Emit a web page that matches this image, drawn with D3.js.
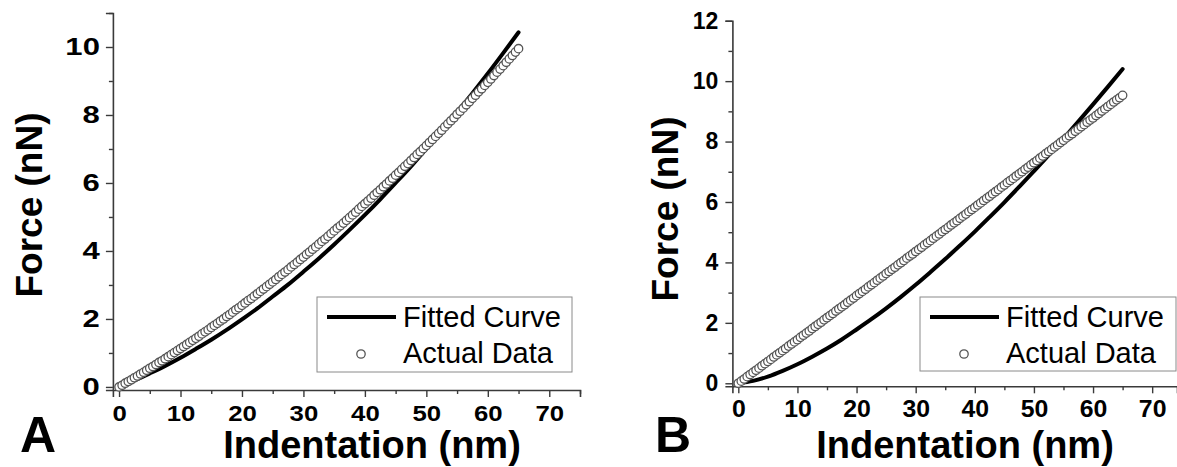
<!DOCTYPE html>
<html>
<head>
<meta charset="utf-8">
<script src="https://cdn.jsdelivr.net/npm/d3@7"></script>
<style>
  html, body { margin: 0; padding: 0; background: #fff; }
  svg { display: block; }
  text { font-family: "Liberation Sans", Arial, sans-serif; }
</style>
</head>
<body>
<svg id="fig" width="1177" height="467"></svg>
<script>
// Measured indentation grid for the AFM force curves (nm)
const sampleStep = 0.5;

// Panel A: measured force (nN) at each 0.5 nm of indentation, 0–65 nm
const forceA = [
  0,0.05,0.11,0.16,0.21,0.27,0.32,0.38,0.43,0.49,
  0.55,0.60,0.66,0.72,0.77,0.83,0.89,0.95,1.01,1.07,
  1.13,1.19,1.25,1.31,1.37,1.43,1.49,1.56,1.62,1.68,
  1.75,1.81,1.87,1.94,2.00,2.07,2.13,2.20,2.27,2.33,
  2.40,2.47,2.54,2.60,2.67,2.74,2.81,2.88,2.95,3.02,
  3.09,3.16,3.24,3.31,3.38,3.45,3.53,3.60,3.67,3.75,
  3.82,3.90,3.97,4.05,4.12,4.20,4.28,4.35,4.43,4.51,
  4.59,4.67,4.74,4.82,4.90,4.98,5.06,5.14,5.23,5.31,
  5.39,5.47,5.55,5.64,5.72,5.80,5.89,5.97,6.06,6.14,
  6.23,6.31,6.40,6.49,6.57,6.66,6.75,6.84,6.92,7.01,
  7.10,7.19,7.28,7.37,7.46,7.55,7.65,7.74,7.83,7.92,
  8.02,8.11,8.20,8.30,8.39,8.49,8.58,8.68,8.77,8.87,
  8.96,9.06,9.16,9.26,9.35,9.45,9.55,9.65,9.75,9.85,
  9.95
];

// Panel B: measured force (nN) at each 0.5 nm of indentation, 0–65 nm
const forceB = [
  0,0.07,0.14,0.22,0.29,0.36,0.43,0.50,0.58,0.65,
  0.72,0.79,0.87,0.94,1.01,1.08,1.15,1.23,1.30,1.37,
  1.44,1.52,1.59,1.66,1.73,1.81,1.88,1.95,2.02,2.10,
  2.17,2.24,2.31,2.39,2.46,2.53,2.60,2.68,2.75,2.82,
  2.90,2.97,3.04,3.11,3.19,3.26,3.33,3.41,3.48,3.55,
  3.63,3.70,3.77,3.84,3.92,3.99,4.06,4.14,4.21,4.28,
  4.36,4.43,4.50,4.58,4.65,4.72,4.80,4.87,4.94,5.02,
  5.09,5.16,5.24,5.31,5.38,5.46,5.53,5.60,5.68,5.75,
  5.82,5.90,5.97,6.05,6.12,6.19,6.27,6.34,6.41,6.49,
  6.56,6.64,6.71,6.78,6.86,6.93,7.00,7.08,7.15,7.23,
  7.30,7.37,7.45,7.52,7.60,7.67,7.74,7.82,7.89,7.97,
  8.04,8.12,8.19,8.26,8.34,8.41,8.49,8.56,8.64,8.71,
  8.78,8.86,8.93,9.01,9.08,9.16,9.23,9.31,9.38,9.45,
  9.53
];

// Fitted curves, sampled every 2.5 nm
const fitIndent = [0,2.5,5,7.5,10,12.5,15,17.5,20,22.5,25,27.5,30,32.5,35,37.5,40,42.5,45,47.5,50,52.5,55,57.5,60,62.5,65];
const fitA = [0,0.19,0.40,0.62,0.86,1.12,1.39,1.68,1.99,2.31,2.66,3.01,3.39,3.78,4.19,4.62,5.06,5.52,6.00,6.49,7.01,7.53,8.08,8.64,9.22,9.82,10.43];
const fitB = [0,0.08,0.22,0.41,0.63,0.88,1.15,1.45,1.78,2.12,2.48,2.86,3.26,3.68,4.11,4.56,5.02,5.50,5.99,6.50,7.02,7.55,8.10,8.66,9.23,9.81,10.40];

// Axis ticks
const xTicks = [0,10,20,30,40,50,60,70];
const yTicksA = [0,2,4,6,8,10];
const yTicksB = [0,2,4,6,8,10,12];
const legendLabels = ["Fitted Curve", "Actual Data"];
const panelLetters = ["A", "B"];

const svg = d3.select("#fig");
const axisColor = "#3a3a3a";
const markerStroke = "#555";

function styleTickText(sel, stretch) {
  sel.attr("fill", "#000")
    .style("font-family", "'Liberation Sans', Arial, sans-serif")
    .style("font-weight", "bold")
    .style("font-size", "23px");
}

function drawPanel(cfg) {
  const g = svg.append("g");
  const x = d3.scaleLinear().domain(cfg.xDomain).range(cfg.xRange);
  const y = d3.scaleLinear().domain(cfg.yDomain).range(cfg.yRange);

  const points = cfg.force.map((f, i) => ({ x: i * sampleStep, y: f }));
  const fit = fitIndent.map((d, i) => ({ x: d, y: cfg.fit[i] }));

  const xMinor = d3.range(5, cfg.xDomain[1] + 0.01, 10);
  const yMinor = d3.range(1, cfg.yDomain[1] + 0.01, 2);

  // x axis: major ticks with labels, minor ticks in between
  const xAxis = g.append("g").attr("transform", `translate(0,${cfg.yRange[0]})`)
    .call(d3.axisBottom(x).tickValues(xTicks).tickSize(7).tickPadding(4).tickFormat(d3.format("d")));
  g.append("g").attr("transform", `translate(0,${cfg.yRange[0]})`)
    .call(d3.axisBottom(x).tickValues(xMinor).tickSize(4).tickFormat(""))
    .call(a => a.select(".domain").remove());

  // y axis
  const yAxis = g.append("g").attr("transform", `translate(${cfg.xRange[0]},0)`)
    .call(d3.axisLeft(y).tickValues(cfg.yTicks).tickSize(7).tickPadding(5).tickFormat(d3.format("d")));
  g.append("g").attr("transform", `translate(${cfg.xRange[0]},0)`)
    .call(d3.axisLeft(y).tickValues(yMinor).tickSize(4).tickFormat(""))
    .call(a => a.select(".domain").remove());

  g.selectAll(".domain").attr("stroke", axisColor).attr("stroke-width", 1.6);
  g.selectAll(".tick line").attr("stroke", axisColor).attr("stroke-width", 1.4);

  // tick labels: bold, horizontally widened as in the figure lettering
  xAxis.selectAll(".tick text").call(styleTickText)
    .attr("dy", "0.85em")
    .attr("x", 0)
    .attr("transform", `scale(${cfg.xLabelStretch},1)`);
  yAxis.selectAll(".tick text").call(styleTickText)
    .attr("x", 0)
    .attr("transform", `translate(${-cfg.yLabelGap},0) scale(${cfg.yLabelStretch},1)`);

  // fitted curve
  g.append("path")
    .datum(fit)
    .attr("fill", "none")
    .attr("stroke", "#000")
    .attr("stroke-width", 4)
    .attr("stroke-linecap", "round")
    .attr("d", d3.line().x(d => x(d.x)).y(d => y(d.y)).curve(d3.curveMonotoneX));

  // measured data
  g.append("g").selectAll("circle")
    .data(points)
    .join("circle")
    .attr("cx", d => x(d.x))
    .attr("cy", d => y(d.y))
    .attr("r", 4.2)
    .attr("fill", "#fff")
    .attr("stroke", markerStroke)
    .attr("stroke-width", 1.3);

  // axis titles
  g.append("text")
    .attr("transform", `translate(${cfg.yTitleX},${cfg.yTitleY}) rotate(-90)`)
    .attr("text-anchor", "middle")
    .style("font-weight", "bold")
    .style("font-size", "37px")
    .text("Force (nN)");
  g.append("text")
    .attr("x", cfg.xTitleX).attr("y", 458)
    .attr("text-anchor", "middle")
    .style("font-weight", "bold")
    .style("font-size", "38px")
    .text("Indentation (nm)");

  // panel letter
  g.append("text")
    .attr("x", cfg.letterX).attr("y", 452)
    .style("font-weight", "bold")
    .style("font-size", "50px")
    .text(cfg.letter);

  // legend
  const L = cfg.legend;
  g.append("rect")
    .attr("x", L.x).attr("y", L.y).attr("width", L.w).attr("height", L.h)
    .attr("fill", "#fff").attr("stroke", "#8a8a8a").attr("stroke-width", 1);
  g.append("line")
    .attr("x1", L.x + 10).attr("x2", L.x + 79)
    .attr("y1", L.y + 20).attr("y2", L.y + 20)
    .attr("stroke", "#000").attr("stroke-width", 4);
  g.append("circle")
    .attr("cx", L.x + 44).attr("cy", L.y + 57).attr("r", 4.2)
    .attr("fill", "#fff").attr("stroke", markerStroke).attr("stroke-width", 1.3);
  g.selectAll(".legend-label")
    .data(legendLabels)
    .join("text")
    .attr("class", "legend-label")
    .attr("x", L.x + 86)
    .attr("y", (d, i) => L.y + 30 + i * 36)
    .style("font-size", "29px")
    .text(d => d);
}

drawPanel({
  force: forceA, fit: fitA, yTicks: yTicksA,
  xDomain: [-1, 75], xRange: [112.9, 580],
  yDomain: [-0.09, 11], yRange: [390, 13],
  xLabelStretch: 1.12, yLabelStretch: 1.35, yLabelGap: 13,
  yTitleX: 42, yTitleY: 205, xTitleX: 372, letterX: 20, letter: panelLetters[0],
  legend: { x: 317, y: 297, w: 255, h: 75 }
});

drawPanel({
  force: forceB, fit: fitB, yTicks: yTicksB,
  xDomain: [-1, 74.2], xRange: [732.4, 1177],
  yDomain: [-0.1, 12], yRange: [386.3, 20.7],
  xLabelStretch: 1.08, yLabelStretch: 1.0, yLabelGap: 14,
  yTitleX: 678, yTitleY: 209, xTitleX: 965, letterX: 655, letter: panelLetters[1],
  legend: { x: 920, y: 297, w: 256, h: 74 }
});
</script>
</body>
</html>
